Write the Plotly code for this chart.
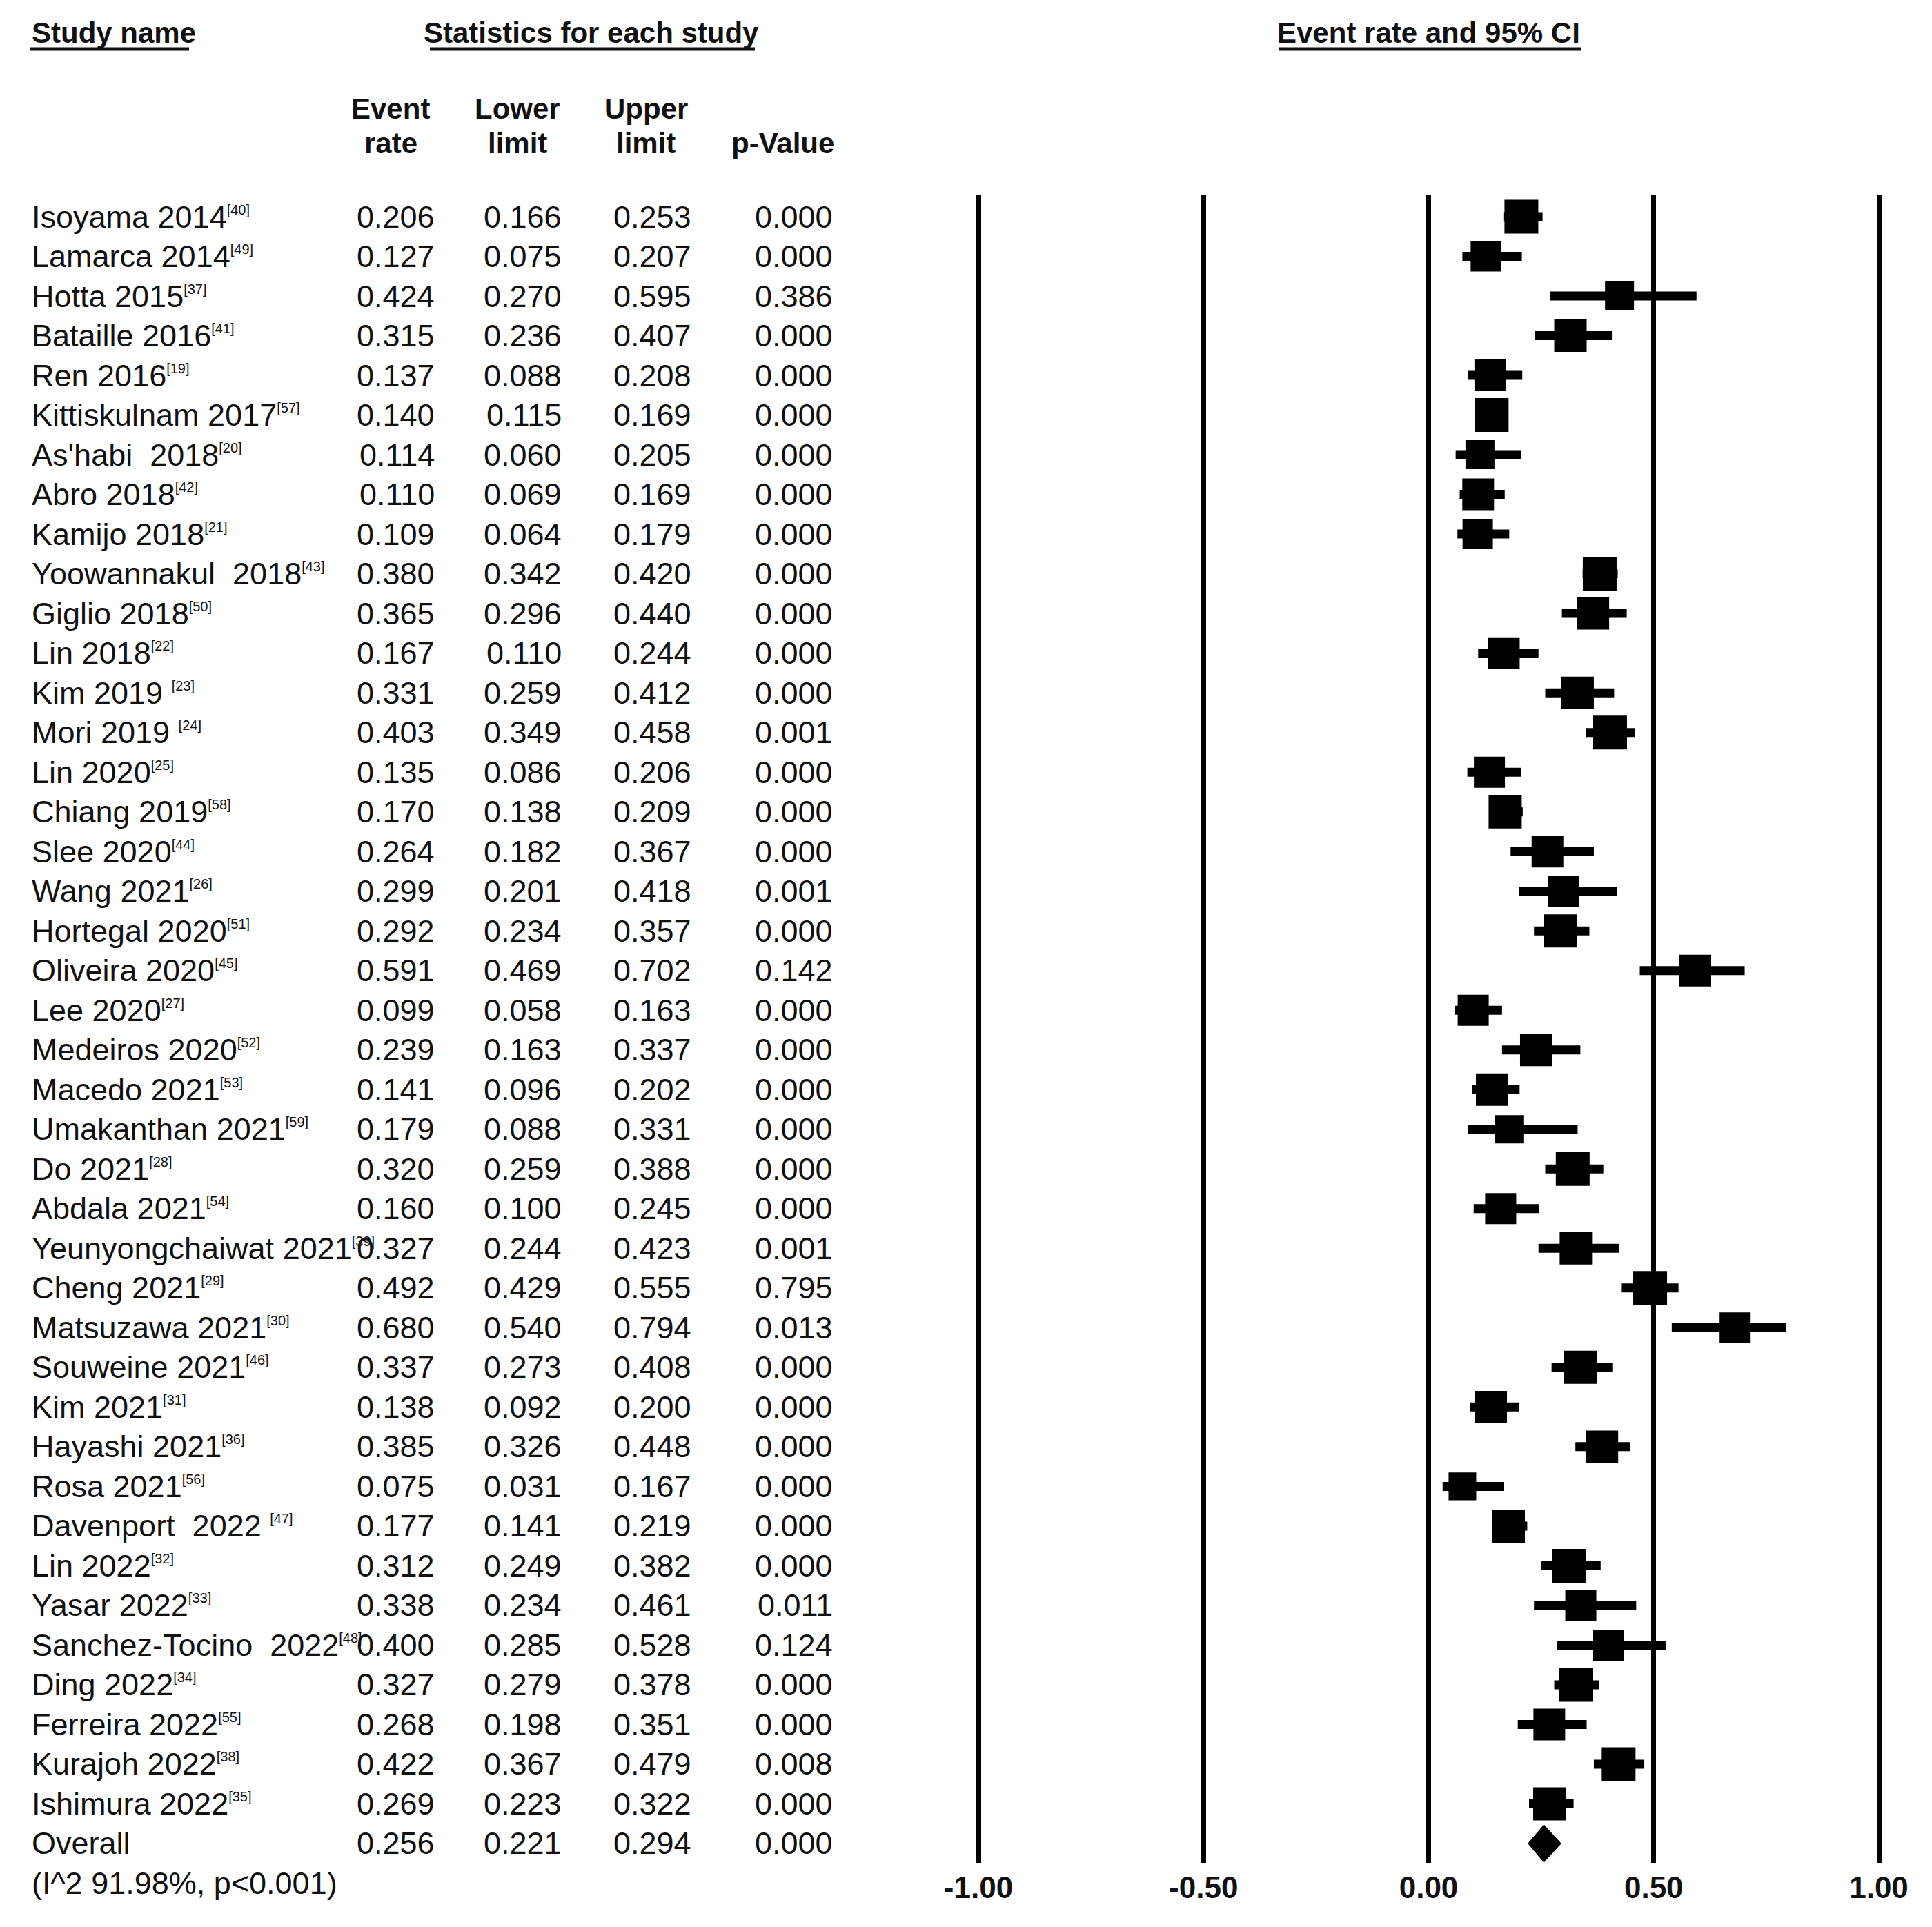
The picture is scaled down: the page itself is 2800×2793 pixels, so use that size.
import plotly.graph_objects as go

W, H = 2800, 2793
OFF = 8  # the page body keeps its default 8px margin
FIG_W, FIG_H = W - 2 * OFF, H - 2 * OFF
FONT = "Liberation Sans, Arial, sans-serif"
INK = "#111111"

studies = [
    "Isoyama 2014", "Lamarca 2014", "Hotta 2015", "Bataille 2016", "Ren 2016",
    "Kittiskulnam 2017", "As'habi\u00a0 2018", "Abro 2018", "Kamijo 2018",
    "Yoowannakul\u00a0 2018", "Giglio 2018", "Lin 2018", "Kim 2019\u00a0", "Mori 2019\u00a0",
    "Lin 2020", "Chiang 2019", "Slee 2020", "Wang 2021", "Hortegal 2020",
    "Oliveira 2020", "Lee 2020", "Medeiros 2020", "Macedo 2021", "Umakanthan 2021",
    "Do 2021", "Abdala 2021", "Yeunyongchaiwat 2021", "Cheng 2021", "Matsuzawa 2021",
    "Souweine 2021", "Kim 2021", "Hayashi 2021", "Rosa 2021", "Davenport\u00a0 2022\u00a0",
    "Lin 2022", "Yasar 2022", "Sanchez-Tocino\u00a0 2022", "Ding 2022", "Ferreira 2022",
    "Kurajoh 2022", "Ishimura 2022",
]
refs = [40, 49, 37, 41, 19, 57, 20, 42, 21, 43, 50, 22, 23, 24, 25, 58, 44, 26, 51, 45,
        27, 52, 53, 59, 28, 54, 39, 29, 30, 46, 31, 36, 56, 47, 32, 33, 48, 34, 55, 38, 35]
event_rate = [0.206, 0.127, 0.424, 0.315, 0.137, 0.140, 0.114, 0.110, 0.109, 0.380,
              0.365, 0.167, 0.331, 0.403, 0.135, 0.170, 0.264, 0.299, 0.292, 0.591,
              0.099, 0.239, 0.141, 0.179, 0.320, 0.160, 0.327, 0.492, 0.680, 0.337,
              0.138, 0.385, 0.075, 0.177, 0.312, 0.338, 0.400, 0.327, 0.268, 0.422, 0.269]
lower = [0.166, 0.075, 0.270, 0.236, 0.088, 0.115, 0.060, 0.069, 0.064, 0.342,
         0.296, 0.110, 0.259, 0.349, 0.086, 0.138, 0.182, 0.201, 0.234, 0.469,
         0.058, 0.163, 0.096, 0.088, 0.259, 0.100, 0.244, 0.429, 0.540, 0.273,
         0.092, 0.326, 0.031, 0.141, 0.249, 0.234, 0.285, 0.279, 0.198, 0.367, 0.223]
upper = [0.253, 0.207, 0.595, 0.407, 0.208, 0.169, 0.205, 0.169, 0.179, 0.420,
         0.440, 0.244, 0.412, 0.458, 0.206, 0.209, 0.367, 0.418, 0.357, 0.702,
         0.163, 0.337, 0.202, 0.331, 0.388, 0.245, 0.423, 0.555, 0.794, 0.408,
         0.200, 0.448, 0.167, 0.219, 0.382, 0.461, 0.528, 0.378, 0.351, 0.479, 0.322]
p_value = [0.000, 0.000, 0.386, 0.000, 0.000, 0.000, 0.000, 0.000, 0.000, 0.000,
           0.000, 0.000, 0.000, 0.001, 0.000, 0.000, 0.000, 0.001, 0.000, 0.142,
           0.000, 0.000, 0.000, 0.000, 0.000, 0.000, 0.001, 0.795, 0.013, 0.000,
           0.000, 0.000, 0.000, 0.000, 0.000, 0.011, 0.124, 0.000, 0.000, 0.008, 0.000]
# relative weights (%)
weights = [2.67, 2.15, 1.96, 2.45, 2.35, 2.67, 1.96, 2.35, 2.15, 2.67,
           2.45, 2.35, 2.45, 2.67, 2.25, 2.56, 2.35, 2.25, 2.56, 2.35,
           2.25, 2.45, 2.45, 1.87, 2.67, 2.25, 2.45, 2.67, 2.15, 2.56,
           2.45, 2.45, 1.78, 2.56, 2.67, 2.25, 2.25, 2.67, 2.35, 2.67, 2.56]

overall_label = "Overall"
overall = [0.256, 0.221, 0.294, 0.000]
heterogeneity = "(I^2 91.98%, p&lt;0.001)"

x_ticks = [-1.0, -0.5, 0.0, 0.5, 1.0]
header_top = ["Event", "Lower", "Upper", ""]
header_bottom = ["rate", "limit", "limit", "p-Value"]


def px(x):
    # page pixel -> paper fraction
    return (x - OFF) / FIG_W


def py(y):
    return 1 - (y - OFF) / FIG_H


n = len(studies)
rows = list(range(n))
overall_row = n

fig = go.Figure()

# confidence intervals
ci_x, ci_y = [], []
for i in rows:
    ci_x += [lower[i], upper[i], None]
    ci_y += [i, i, None]
fig.add_trace(go.Scatter(x=ci_x, y=ci_y, mode="lines",
                         line=dict(color="black", width=13), hoverinfo="skip"))

# study squares
fig.add_trace(go.Scatter(
    x=event_rate, y=rows, mode="markers",
    marker=dict(symbol="square", color="black", opacity=1,
                size=[30 * w ** 0.5 for w in weights], line=dict(width=0)),
    hoverinfo="skip",
))

# pooled diamond
est, lo, hi = overall[0], overall[1], overall[2]
half = 0.47
fig.add_trace(go.Scatter(
    x=[lo, est, hi, est, lo],
    y=[overall_row, overall_row - half, overall_row, overall_row + half, overall_row],
    mode="lines", fill="toself", fillcolor="black", line=dict(color="black", width=1),
    hoverinfo="skip",
))

ann = []
body = dict(family=FONT, size=45, color=INK)
head = dict(family=FONT, size=42, color=INK, weight="bold")
sup = "<sup><span style='font-size:20px'>[{}]</span></sup>"

col_right = [632, 816, 1004, 1209]
for i in rows:
    ann.append(dict(x=px(44), y=i, xref="paper", yref="y", xanchor="left", yanchor="middle",
                    text=studies[i] + sup.format(refs[i]), showarrow=False, font=body))
    for c, v in enumerate([event_rate[i], lower[i], upper[i], p_value[i]]):
        ann.append(dict(x=px(col_right[c]), y=i, xref="paper", yref="y", xanchor="right",
                        yanchor="middle", text=f"{v:.3f}", showarrow=False, font=body))

ann.append(dict(x=px(44), y=overall_row, xref="paper", yref="y", xanchor="left",
                yanchor="middle", text=overall_label, showarrow=False, font=body))
for c, v in enumerate(overall):
    ann.append(dict(x=px(col_right[c]), y=overall_row, xref="paper", yref="y", xanchor="right",
                    yanchor="middle", text=f"{v:.3f}", showarrow=False, font=body))
ann.append(dict(x=px(44), y=py(2729), xref="paper", yref="paper", xanchor="left",
                yanchor="middle", text=heterogeneity, showarrow=False, font=body))

# headers
ann.append(dict(x=px(44), y=py(48), xref="paper", yref="paper", xanchor="left",
                yanchor="middle", text="Study name", showarrow=False, font=head))
ann.append(dict(x=px(612), y=py(48), xref="paper", yref="paper", xanchor="left",
                yanchor="middle", text="Statistics for each study", showarrow=False, font=head))
ann.append(dict(x=0, y=py(48), xref="x", yref="paper", xanchor="center",
                yanchor="middle", text="Event rate and 95% CI", showarrow=False, font=head))
col_center = [566, 750, 936, 1134]
for c in range(4):
    if header_top[c]:
        ann.append(dict(x=px(col_center[c]), y=py(158), xref="paper", yref="paper",
                        xanchor="center", yanchor="middle", text=header_top[c],
                        showarrow=False, font=head))
    ann.append(dict(x=px(col_center[c]), y=py(207), xref="paper", yref="paper",
                    xanchor="center", yanchor="middle", text=header_bottom[c],
                    showarrow=False, font=head))

shapes = []
for x0, x1 in [(44, 274), (623, 1094), (1854, 2292)]:
    shapes.append(dict(type="line", xref="paper", yref="paper", x0=px(x0), x1=px(x1),
                       y0=py(71), y1=py(71), line=dict(color=INK, width=5)))

fig.update_layout(
    width=FIG_W, height=FIG_H, autosize=False,
    margin=dict(l=0, r=0, t=0, b=0),
    paper_bgcolor="white", plot_bgcolor="white",
    showlegend=False,
    annotations=ann, shapes=shapes,
    xaxis=dict(range=[-1.1, 1.1], domain=[px(1352.75), px(2788.25)],
               tickvals=x_ticks, ticktext=[f"{t:.2f}" for t in x_ticks],
               showgrid=True, gridcolor="black", gridwidth=7, zeroline=False,
               showline=False, ticks="", ticklabelstandoff=6,
               tickfont=dict(family=FONT, size=44, color=INK, weight="bold")),
    yaxis=dict(range=[41.487, -0.539], domain=[py(2700), py(283)],
               showgrid=False, zeroline=False, showticklabels=False, showline=False),
)

fig.write_html("out.html")
